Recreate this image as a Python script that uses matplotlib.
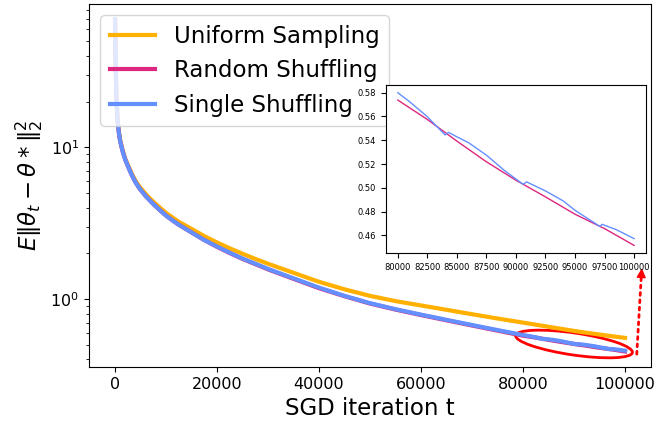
import numpy as np
import matplotlib
matplotlib.use("Agg")
import matplotlib.pyplot as plt
from matplotlib.patches import Ellipse
import matplotlib.transforms as transforms

# values
t_main = [0, 100, 250, 500, 750, 1000, 1500, 2000, 2500, 3000, 3500, 4000, 4500, 5000,
          6000, 7000, 8000, 9000, 10000, 11000, 12500, 15000, 17500, 20000, 22500,
          25000, 27500, 30000, 35000, 40000, 45000, 50000, 55000, 60000, 65000,
          70000, 75000]
uniform_main = [70, 40.5, 22.4, 15.3, 12.75, 11.2, 9.55, 8.43, 7.68, 7.04, 6.49, 6.04, 5.69, 5.4,
                4.93, 4.55, 4.23, 3.95, 3.7, 3.5, 3.23, 2.9, 2.6, 2.36, 2.16,
                1.99, 1.84, 1.71, 1.49, 1.30, 1.16, 1.05, 0.97, 0.908, 0.85,
                0.795, 0.745]
single_main = [70, 40, 22, 15, 12.5, 11, 9.4, 8.3, 7.55, 6.9, 6.35, 5.9, 5.55, 5.25,
               4.78, 4.4, 4.08, 3.8, 3.55, 3.35, 3.09, 2.75, 2.45, 2.22, 2.02,
               1.85, 1.71, 1.58, 1.37, 1.19, 1.05, 0.94, 0.858, 0.79, 0.73,
               0.675, 0.625]
random_main = [70, 40, 22, 15, 12.5, 11, 9.4, 8.3, 7.55, 6.9, 6.35, 5.9, 5.55, 5.25,
               4.78, 4.4, 4.08, 3.8, 3.55, 3.35, 3.09, 2.75, 2.45, 2.21, 2.01,
               1.84, 1.70, 1.57, 1.36, 1.18, 1.045, 0.935, 0.853, 0.785, 0.725,
               0.67, 0.62]

t_uni_tail = [80000, 85000, 90000, 95000, 100000]
uniform_tail = [0.70, 0.657, 0.617, 0.584, 0.555]

t_rand_tail = [80000, 82500, 85000, 87500, 90000, 92500, 95000, 97500, 100000]
random_tail = [0.5738, 0.5575, 0.5393, 0.5219, 0.5064, 0.4924, 0.4778, 0.4657, 0.4516]

t_single_tail = [80000, 81000, 82500, 84000, 84300, 85000, 86000, 87500, 89000,
                 90600, 90900, 92500, 94000, 95000, 97100, 97300, 98500, 100000]
single_tail = [0.580, 0.5724, 0.5598, 0.5445, 0.5466, 0.5429, 0.5379, 0.5275, 0.5148,
               0.5030, 0.5050, 0.4974, 0.4890, 0.4811, 0.4676, 0.4693, 0.4648, 0.4573]

c_uni = '#FFB000'
c_rand = '#DC267F'
c_single = '#648FFF'

fig = plt.figure(figsize=(6.58, 4.34), dpi=100)
ax = fig.add_axes([0.1353, 0.1544, 0.8541, 0.8364])

ax.plot(t_main + t_uni_tail, uniform_main + uniform_tail, color=c_uni, lw=3, label='Uniform Sampling')
ax.plot(t_main + t_rand_tail, random_main + random_tail, color=c_rand, lw=3, label='Random Shuffling')
ax.plot(t_main + t_single_tail, single_main + single_tail, color=c_single, lw=3, label='Single Shuffling')
ax.set_yscale('log')
ax.set_xlim(-5100, 105100)
ax.set_ylim(0.357, 88)
ax.set_xlabel('SGD iteration t', fontsize=16.5)
ax.set_ylabel(r'$E\|\theta_t - \theta*\|_2^2$', fontsize=16.5)
ax.tick_params(labelsize=11.5)
ax.legend(loc='upper left', fontsize=16.5)

# red ellipse around the tail
trans = fig.dpi_scale_trans + transforms.ScaledTranslation(90000, 0.506, ax.transData)
ell = Ellipse((0, 0), 1.18, 0.22, angle=-8.3, transform=trans,
              fill=False, edgecolor='red', lw=2, clip_on=False)
ax.add_patch(ell)

# dotted arrow up to the inset
ax.annotate('', xy=(103170, 1.375), xytext=(102300, 0.434),
            arrowprops=dict(arrowstyle='-', color='red', lw=2, linestyle=':',
                            shrinkA=0, shrinkB=0),
            annotation_clip=False)
ax.annotate('', xy=(103300, 1.6), xytext=(103170, 1.375),
            arrowprops=dict(arrowstyle='-|>', color='red', lw=1,
                            mutation_scale=14, shrinkA=0, shrinkB=0),
            annotation_clip=False)

# zoomed inset
axin = fig.add_axes([0.5866, 0.417, 0.395, 0.387])
axin.plot(t_rand_tail, random_tail, color=c_rand, lw=1)
axin.plot(t_single_tail, single_tail, color=c_single, lw=1)
axin.tick_params(labelsize=6)

plt.savefig('out.png', dpi=100)
